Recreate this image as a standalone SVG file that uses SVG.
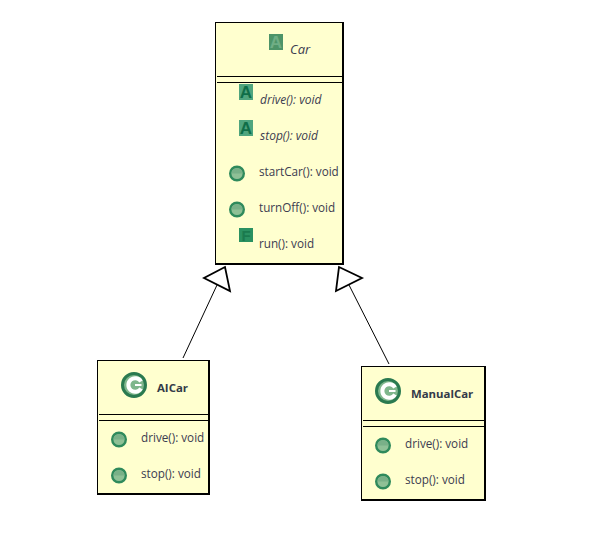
<svg xmlns="http://www.w3.org/2000/svg" width="591" height="540" viewBox="0 0 591 540">
<defs>
<g id="mcirc"><circle r="6.800" fill="#8fc096" stroke="#2f8a5c" stroke-width="2.400"/><path d="M-5.500 0A5.500 5.500 0 0 1 5.500 0Z" fill="#79b088"/></g>
<g id="cicon"><circle r="11.500" fill="#7fb68c" stroke="#2a7a50" stroke-width="3"/><path d="M7 -3.500A6.800 6.800 0 1 0 7 3.500" fill="none" stroke="#fff" stroke-width="4"/><path d="M1 0H7.500" stroke="#fff" stroke-width="2"/></g>
</defs>
<style>
text{font-family:"Open Sans","Noto Sans","Liberation Sans",sans-serif;font-size:11.700px;fill:#3c3c50}
.b{font-weight:700;font-size:11.400px;fill:#333a48}
.i{font-style:italic;font-size:12px}
.box{fill:#ffffcf;stroke:#000;stroke-width:1}
.shadow{fill:none;stroke:#000;stroke-width:2}
.sep{stroke:#000;stroke-width:1;fill:none}
.tri{fill:#fff;stroke:#000;stroke-width:1.800}
.edge{stroke:#000;stroke-width:1;fill:none}
.ia{font-family:"Liberation Sans",sans-serif;font-weight:700;font-size:17px;fill:#0f6e48;text-anchor:middle}
.r{fill:#4fa57e}
.rc{fill:#4d9468}
</style>
<g id="connectors">
<line class="edge" x1="183" y1="358" x2="217" y2="285"/>
<polygon class="tri" points="225,267 204,278 230,291"/>
<line class="edge" x1="389" y1="364" x2="349" y2="285"/>
<polygon class="tri" points="339,267 362,278 336,291"/>
</g>
<g id="Car">
<rect class="box" x="215.500" y="22.500" width="127" height="241"/>
<path class="shadow" d="M343 22V264H215"/>
<line class="sep" x1="217" y1="76.500" x2="342" y2="76.500"/>
<line class="sep" x1="217" y1="82.500" x2="342" y2="82.500"/>
<rect class="rc" x="269" y="34" width="14" height="16"/>
<text class="ia" x="276" y="48" style="fill:#6fae85">A</text>
<text class="i" x="290" y="53.500" style="font-size:13px">Car</text>
<rect class="r" x="239" y="84" width="14" height="16"/>
<text class="ia" x="246" y="98">A</text>
<text class="i" x="260" y="103.500">drive(): void</text>
<rect class="r" x="239" y="120" width="14" height="16"/>
<text class="ia" x="246" y="134">A</text>
<text class="i" x="260" y="139.500">stop(): void</text>
<use href="#mcirc" x="237" y="173.500"/>
<text x="259" y="175.500">startCar(): void</text>
<use href="#mcirc" x="237" y="209.500"/>
<text x="259" y="211.500">turnOff(): void</text>
<rect x="239" y="228" width="14" height="14" fill="#2a9161"/>
<text class="ia" x="246" y="241" style="fill:#1a7a4e;font-size:15px">F</text>
<text x="259" y="247.500">run(): void</text>
</g>
<g id="AICar">
<rect class="box" x="97.500" y="360.500" width="111" height="133"/>
<path class="shadow" d="M209 360V494H97"/>
<line class="sep" x1="99" y1="414.500" x2="208" y2="414.500"/>
<line class="sep" x1="99" y1="420.500" x2="208" y2="420.500"/>
<use href="#cicon" x="134" y="385"/>
<text class="b" x="157" y="391.500">AICar</text>
<use href="#mcirc" x="119" y="439.500"/>
<text x="141" y="441.500">drive(): void</text>
<use href="#mcirc" x="119" y="475.500"/>
<text x="141" y="477.500">stop(): void</text>
</g>
<g id="ManualCar">
<rect class="box" x="361.500" y="366.500" width="123" height="133"/>
<path class="shadow" d="M485 366V500H361"/>
<line class="sep" x1="363" y1="420.500" x2="484" y2="420.500"/>
<line class="sep" x1="363" y1="426.500" x2="484" y2="426.500"/>
<use href="#cicon" x="388" y="391"/>
<text class="b" x="411" y="397.500">ManualCar</text>
<use href="#mcirc" x="383" y="445.500"/>
<text x="405" y="447.500">drive(): void</text>
<use href="#mcirc" x="383" y="481.500"/>
<text x="405" y="483.500">stop(): void</text>
</g>
</svg>
